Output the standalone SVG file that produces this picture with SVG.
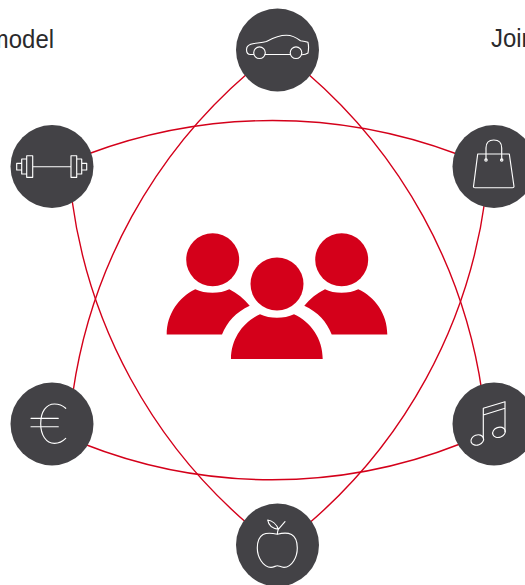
<svg xmlns="http://www.w3.org/2000/svg" width="525" height="585" viewBox="0 0 525 585">
<style>
.c{fill:#434246}
.a{fill:none;stroke:#d4001a;stroke-width:1.4}
.i{fill:none;stroke:#fff;stroke-width:1.15;stroke-linejoin:round;stroke-linecap:round}
.p{fill:#d4001a}
.t{font-family:"Liberation Sans",Arial,sans-serif;font-size:26px;fill:#2a2a2c}
</style>
<rect width="525" height="585" fill="#fff"/>
<text class="t" transform="translate(54 48) scale(.92 1)" text-anchor="end" id="label-model">model</text>
<text class="t" transform="translate(491 47) scale(.92 1)" id="label-join">Join</text>
<g id="connectors">
<path class="a" d="M88 154A525 525 0 0 1 457 154"/>
<path class="a" d="M248 73A520 520 0 0 0 73 392"/>
<path class="a" d="M307 73A520 520 0 0 1 482 392"/>
<path class="a" d="M72 200A520 520 0 0 0 249 525"/>
<path class="a" d="M485 200A520 520 0 0 1 307 525"/>
<path class="a" d="M84 444A512 512 0 0 0 460 444"/>
</g>
<g id="node-car"><circle class="c" cx="277.5" cy="50" r="41.5"/>
<path class="i" d="M253.5 54.5H250.5C247.5 54.5 246.5 52 246.5 49.5C246.5 46 250 44 254 43.5C259 42.8 263 42.5 266.5 41.5C271 39 277 35.2 286.5 35.2C293 35.2 297 38 300.5 40.7C303 41 306 41.5 308 42.3C308.6 45 308.6 50 308 53C306 54.5 304 54.7 302 54.7M290 54.5H265"/>
<circle class="i" cx="259.5" cy="52.7" r="5.8"/><circle class="i" cx="296" cy="52.7" r="5.8"/></g>
<g id="node-barbell"><circle class="c" cx="52" cy="166.5" r="41.5"/>
<path class="i" d="M32.7 166.7H71M26.7 155.7h6v21.6h-6zM21.7 159h5v15h-5zM16.7 163.3h5v6.7h-5zM71 155.7h5.7v21.6H71zM76.7 159h5v15h-5zM81.7 163.3h5v6.7h-5z"/></g>
<g id="node-bag"><circle class="c" cx="494" cy="166.5" r="41.5"/>
<path class="i" d="M477.7 154H509.3L514 186.5Q514 187.7 512.5 187.7H475Q473.3 187.7 473.5 186.5ZM486 160V148C486 143 489 140 493.8 140C498.7 140 501.7 143 501.7 148V160"/>
<circle class="i" cx="486" cy="160" r="1.2"/><circle class="i" cx="501.7" cy="160" r="1.2"/></g>
<g id="node-euro"><circle class="c" cx="52" cy="424" r="41.5"/>
<path class="i" d="M65.7 408.3C62 405 58 404 54.5 404C46 404 40.7 412 40.7 423.5C40.7 435 46 443.3 54.5 443.3C58 443.3 62 442 65.7 438.3M31 418.3H58.3M31 426.7H58.3"/></g>
<g id="node-music"><circle class="c" cx="494" cy="424" r="41.5"/>
<path class="i" d="M483.3 438.3V408.3L505 401.7V431.7M483.3 415L505 408.3"/>
<ellipse class="i" cx="477.3" cy="440" rx="6.5" ry="5" transform="rotate(-20 477.3 440)"/>
<ellipse class="i" cx="499" cy="432.3" rx="6.5" ry="5" transform="rotate(-20 499 432.3)"/></g>
<g id="node-apple"><circle class="c" cx="277.5" cy="545" r="41.5"/>
<path class="i" d="M277.3 534.3C272 533 267 532.5 263 534.5C258 537.5 257.3 543 257.3 548C257.3 557 263 567.3 271 567.3C274 567.3 275.5 565.7 277.3 565.7C279 565.7 281 567.3 284 567.3C292 567.3 297.3 557 297.3 548C297.3 543 296 537 291.5 534.5C287.5 532.5 282 533 277.3 534.3ZM277.3 534.3C277.5 532 277.8 530.5 278.3 529.3L285 521.7M278.3 529.3C276.5 524 272 520.5 267.7 520C268.5 525 272.5 528.5 278.3 529.3Z"/></g>
<g id="node-people">
<circle class="p" cx="277" cy="284" r="26.5"/>
<circle class="p" cx="212.7" cy="259.7" r="26.5"/>
<circle class="p" cx="341.7" cy="259.7" r="26.5"/>
<path class="p" d="M231 359C231 339 243 322 260 314.3C270 319 284 319 294 314.3C311 322 322.7 339 322.7 359Z"/>
<path class="p" d="M166.7 334.5C166.7 314 179 297 195.3 289.3C205 294 220 294 229.3 289.3C237 293 244 299 249.7 305.7C236 312 227 322 222 334.5Z"/>
<path class="p" d="M387.3 334.5C387.3 314 375 297 358.3 289.3C349 294 334 294 325 289.3C317 293 310 299 304.3 305.7C318 312 327 322 331.7 334.5Z"/>
</g>
</svg>
